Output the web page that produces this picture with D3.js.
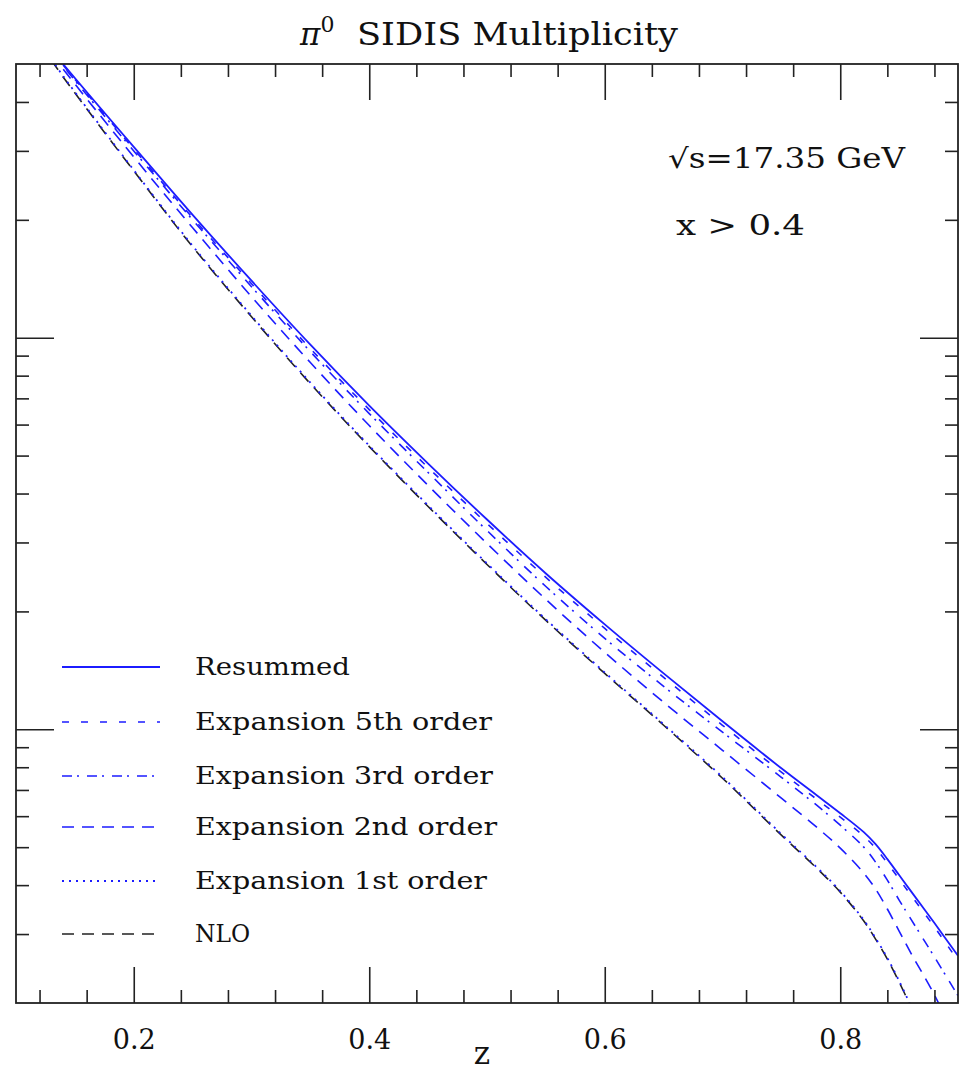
<!DOCTYPE html>
<html><head><meta charset="utf-8">
<script src="https://cdn.jsdelivr.net/npm/d3@7"></script>
<style>
html,body{margin:0;padding:0;background:#fff;}
text{font-family:"DejaVu Serif","Liberation Serif",serif;fill:#111;}
</style></head>
<body><svg id="c" width="967" height="1071"></svg>
<script>
// ---- data ----
const zGrid = [0.13,0.14,0.2,0.25,0.3,0.35,0.4,0.45,0.5,0.55,0.6,0.65,0.7,0.75,0.78,0.8,0.82,0.83,0.84,0.85,0.86,0.88,0.9];
const resummed = [5.46,5.00,3.07,2.060,1.398,0.960,0.6709,0.4772,0.3433,0.250,0.1853,0.1389,0.1048,0.0795,0.06785,0.06105,0.05461,0.05089,0.04661,0.04243,0.03861,0.0320,0.0264];
const exp5 = [5.43,4.97,3.034,2.024,1.374,0.938,0.6553,0.4661,0.3353,0.2442,0.1810,0.1357,0.1024,0.0777,0.06628,0.05963,0.05334,0.04971,0.04553,0.04145,0.03771,0.03126,0.02564];
const exp3 = [5.40,4.94,2.999,2.000,1.350,0.921,0.6401,0.4526,0.3218,0.2316,0.1707,0.1287,0.0983,0.0754,0.06398,0.05689,0.05001,0.04579,0.0412,0.03664,0.03276,0.02621,0.02088];
const exp2 = [5.33,4.856,2.895,1.909,1.273,0.864,0.5966,0.4194,0.2982,0.2146,0.1572,0.1172,0.0884,0.0667,0.05623,0.04971,0.04293,0.03908,0.03476,0.03054,0.02683,0.02096,0.01574];
const zGridLow = [0.13,0.14,0.2,0.25,0.3,0.35,0.4,0.45,0.5,0.55,0.6,0.65,0.7,0.75,0.78,0.8,0.82,0.83,0.84,0.85,0.86];
const exp1 = [5.15,4.66,2.68,1.717,1.138,0.768,0.530,0.373,0.2652,0.1909,0.1397,0.1030,0.0755,0.0540,0.04445,0.03862,0.03257,0.0293,0.02606,0.02277,0.01966];
const nlo  = [5.12,4.633,2.667,1.707,1.131,0.763,0.5272,0.3706,0.2636,0.1897,0.1389,0.1024,0.0750,0.05366,0.04419,0.03839,0.03238,0.02912,0.0259,0.02263,0.01954];

const xMajor = [0.2,0.4,0.6,0.8];
const xMinor = [0.12,0.16,0.24,0.28,0.32,0.36,0.44,0.48,0.52,0.56,0.64,0.68,0.72,0.76,0.84,0.88];
const xLabels = ["0.2","0.4","0.6","0.8"];
const yMajor = [0.1,1];
const yMinor = [0.03,0.04,0.05,0.06,0.07,0.08,0.09,0.2,0.3,0.4,0.5,0.6,0.7,0.8,0.9,2,3,4];

const seriesNames = ["Resummed","Expansion 5th order","Expansion 3rd order","Expansion 2nd order","Expansion 1st order","NLO"];

// ---- layout ----
const L=16, R=958, T=64, B=1003;
const svg = d3.select("#c");
const x = d3.scaleLinear().domain([0.1,0.9]).range([L,R]);
const y = d3.scaleLog().domain([0.02,5]).range([B,T]);

const styles = [
  {color:"#1c1cff", dash:null, w:1.8},
  {color:"#1c1cff", dash:"7,12", w:1.6},
  {color:"#1c1cff", dash:"10,5,2,8", w:1.6},
  {color:"#1c1cff", dash:"12,8", w:1.6},
  {color:"#1c1cff", dash:"2,5", w:1.8},
  {color:"#222", dash:"12,8", w:1.6}
];
const seriesData = [
  zGrid.map((z,i)=>[z,resummed[i]]),
  zGrid.map((z,i)=>[z,exp5[i]]),
  zGrid.map((z,i)=>[z,exp3[i]]),
  zGrid.map((z,i)=>[z,exp2[i]]),
  zGridLow.map((z,i)=>[z,exp1[i]]),
  zGridLow.map((z,i)=>[z,nlo[i]])
];

svg.append("defs").append("clipPath").attr("id","clip")
  .append("rect").attr("x",L).attr("y",T).attr("width",R-L).attr("height",B-T);

const line = d3.line().x(d=>x(d[0])).y(d=>y(d[1])).curve(d3.curveCatmullRom.alpha(0.5));
const g = svg.append("g").attr("clip-path","url(#clip)");
[5,4,3,2,1,0].forEach(i=>{
  g.append("path").datum(seriesData[i]).attr("d",line)
   .attr("fill","none").attr("stroke",styles[i].color)
   .attr("stroke-width",styles[i].w)
   .attr("stroke-dasharray",styles[i].dash);
});

// ---- axes (ticks pointing inward) ----
function styleAxis(sel){
  sel.select(".domain").remove();
  sel.selectAll(".tick line").attr("stroke","#222").attr("stroke-width",1.6);
}
svg.append("g").attr("transform",`translate(0,${B})`)
  .call(d3.axisBottom(x).tickValues(xMinor).tickSize(-13).tickFormat("")).call(styleAxis);
const xb = svg.append("g").attr("transform",`translate(0,${B})`)
  .call(d3.axisBottom(x).tickValues(xMajor).tickSize(-36).tickPadding(27).tickFormat((d,i)=>xLabels[i])).call(styleAxis);
xb.selectAll(".tick text").attr("font-size",27).attr("font-family","DejaVu Serif").attr("fill","#111");
svg.append("g").attr("transform",`translate(0,${T})`)
  .call(d3.axisTop(x).tickValues(xMinor).tickSize(-13).tickFormat("")).call(styleAxis);
svg.append("g").attr("transform",`translate(0,${T})`)
  .call(d3.axisTop(x).tickValues(xMajor).tickSize(-36).tickFormat("")).call(styleAxis);
svg.append("g").attr("transform",`translate(${L},0)`)
  .call(d3.axisLeft(y).tickValues(yMinor).tickSize(-13).tickFormat("")).call(styleAxis);
svg.append("g").attr("transform",`translate(${L},0)`)
  .call(d3.axisLeft(y).tickValues(yMajor).tickSize(-38).tickFormat("")).call(styleAxis);
svg.append("g").attr("transform",`translate(${R},0)`)
  .call(d3.axisRight(y).tickValues(yMinor).tickSize(-13).tickFormat("")).call(styleAxis);
svg.append("g").attr("transform",`translate(${R},0)`)
  .call(d3.axisRight(y).tickValues(yMajor).tickSize(-38).tickFormat("")).call(styleAxis);

svg.append("rect").attr("x",L).attr("y",T).attr("width",R-L).attr("height",B-T)
  .attr("fill","none").attr("stroke","#222").attr("stroke-width",1.8);

// ---- titles ----
const title = svg.append("text").attr("x",300).attr("y",45).attr("font-size",31);
title.append("tspan").attr("font-style","italic").text("π");
title.append("tspan").attr("dy",-13).attr("font-size",22).text("0");
title.append("tspan").attr("dy",13).attr("x",357).text("SIDIS Multiplicity").attr("textLength",321).attr("lengthAdjust","spacingAndGlyphs");

svg.append("text").attr("x",482).attr("y",1064).attr("text-anchor","middle").attr("font-size",31).text("z");

svg.append("text").attr("x",668).attr("y",168).attr("font-size",27)
  .attr("textLength",237).attr("lengthAdjust","spacingAndGlyphs").text("√s=17.35 GeV");
svg.append("text").attr("x",676).attr("y",235).attr("font-size",27)
  .attr("textLength",129).attr("lengthAdjust","spacingAndGlyphs").text("x > 0.4");

// ---- legend ----
const legY = [667,722,776,827,881,934];
const legW = [155,297,298,302,292,55];
seriesNames.forEach((n,i)=>{
  svg.append("line").attr("x1",62).attr("x2",160).attr("y1",legY[i]).attr("y2",legY[i])
    .attr("stroke",styles[i].color).attr("stroke-width",styles[i].w)
    .attr("stroke-dasharray",styles[i].dash);
  svg.append("text").attr("x",195).attr("y",legY[i]+8).attr("font-size",24)
    .attr("textLength",legW[i]).attr("lengthAdjust","spacingAndGlyphs").text(n);
});
</script></body></html>
